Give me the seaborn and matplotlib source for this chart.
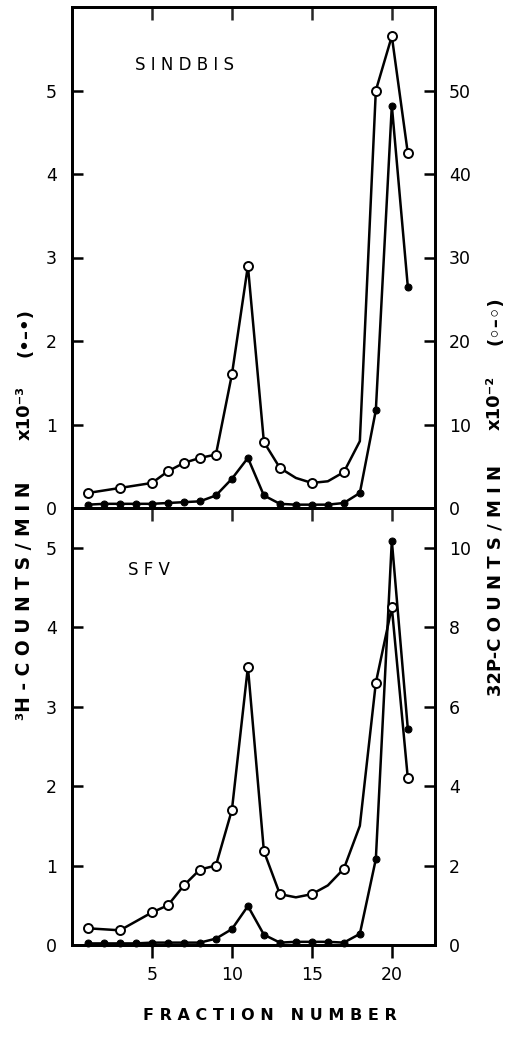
import numpy as np
import pandas as pd
import matplotlib
matplotlib.use("Agg")
import matplotlib.pyplot as plt
import seaborn as sns

# ---------------- data ----------------
fractions = list(range(1, 22))

# SINDBIS: 3H counts/min x10^-3 (filled circles, left axis)
sindbis_h3 = [0.04, 0.05, 0.05, 0.05, 0.05, 0.06, 0.07, 0.08, 0.15, 0.35, 0.60,
              0.15, 0.05, 0.04, 0.04, 0.04, 0.06, 0.18, 1.17, 4.82, 2.65]
# SINDBIS: 32P counts/min x10^-2 (open circles, right axis)
sindbis_p32_x = [1, 3, 5, 6, 7, 8, 9, 10, 11, 12, 13, 15, 17, 19, 20, 21]
sindbis_p32 = [1.8, 2.4, 3.0, 4.4, 5.4, 6.0, 6.4, 16.0, 29.0, 7.9, 4.8, 3.0, 4.3, 50.0, 56.5, 42.5]
sindbis_p32_curve_x = [14, 16, 18]
sindbis_p32_curve = [3.6, 3.2, 8.0]

# SFV
sfv_h3 = [0.02, 0.02, 0.02, 0.02, 0.03, 0.03, 0.03, 0.03, 0.08, 0.20, 0.49,
          0.13, 0.03, 0.04, 0.04, 0.04, 0.03, 0.14, 1.08, 5.09, 2.72]
sfv_p32_x = [1, 3, 5, 6, 7, 8, 9, 10, 11, 12, 13, 15, 17, 19, 20, 21]
sfv_p32 = [0.42, 0.37, 0.82, 1.0, 1.5, 1.9, 2.0, 3.4, 7.0, 2.36, 1.28, 1.28, 1.92, 6.6, 8.5, 4.2]
sfv_p32_curve_x = [14, 16, 18]
sfv_p32_curve = [1.2, 1.5, 3.0]

panel_names = ["S I N D B I S", "S F V"]
x_ticks = [5, 10, 15, 20]
left_ticks = [0, 1, 2, 3, 4, 5]
right_ticks_top = [0, 10, 20, 30, 40, 50]
right_ticks_bottom = [0, 2, 4, 6, 8, 10]

# ---------------- style ----------------
sns.set_theme(style="ticks")
plt.rcParams["font.family"] = ["DejaVu Sans"]

W, H = 516, 1043
fig = plt.figure(figsize=(W / 100, H / 100), dpi=100)
fig.patch.set_facecolor("white")

xl, xr = 72, 435
y_top, y_mid, y_bot = 7, 508, 945


def fx(px):
    return px / W


def fy(py):
    return 1 - py / H


ax_top = fig.add_axes([fx(xl), fy(y_mid), fx(xr - xl), (y_mid - y_top) / H])
ax_bot = fig.add_axes([fx(xl), fy(y_bot), fx(xr - xl), (y_bot - y_mid) / H])

LW = 1.8
TICK_FS = 12.5


def draw_panel(ax, h3, px, py, cx, cy, ylim, y2lim, y2ticks, name, name_pos):
    df_h = pd.DataFrame({"fraction": fractions, "h3": h3})
    sns.lineplot(data=df_h, x="fraction", y="h3", ax=ax, color="black",
                 linewidth=LW, marker="o", markersize=5, markerfacecolor="black",
                 markeredgecolor="black", estimator=None, clip_on=False, zorder=3)
    ax2 = ax.twinx()
    df_p = pd.DataFrame({
        "fraction": list(px) + list(cx),
        "p32": list(py) + list(cy),
        "measured": [True] * len(px) + [False] * len(cx),
    }).sort_values("fraction")
    sns.lineplot(data=df_p, x="fraction", y="p32", ax=ax2, color="black",
                 linewidth=LW, estimator=None, sort=True, zorder=3)
    sns.scatterplot(data=df_p[df_p["measured"]], x="fraction", y="p32", ax=ax2,
                    s=42, color="white", edgecolor="black", linewidth=1.4,
                    zorder=5, clip_on=False)
    ax.set_xlim(0, 22.7)
    ax.set_ylim(*ylim)
    ax2.set_ylim(*y2lim)
    ax.set_xticks(x_ticks)
    ax.set_yticks(left_ticks)
    ax2.set_yticks(y2ticks)
    ax.set_xlabel("")
    ax.set_ylabel("")
    ax2.set_ylabel("")
    for a in (ax, ax2):
        for s in a.spines.values():
            s.set_visible(True)
            s.set_linewidth(2.0)
            s.set_color("black")
    ax.tick_params(axis="y", direction="in", length=8, width=1.8, pad=11,
                   labelsize=TICK_FS, colors="black", left=True, right=False)
    ax2.tick_params(axis="y", direction="in", length=8, width=1.8, pad=10,
                    labelsize=TICK_FS, colors="black")
    ax.text(name_pos[0], name_pos[1], name, transform=ax.transAxes,
            fontsize=12, ha="left", va="center", color="black")
    return ax2


ax2_top = draw_panel(ax_top, sindbis_h3, sindbis_p32_x, sindbis_p32,
                     sindbis_p32_curve_x, sindbis_p32_curve,
                     (0, 6.0), (0, 60), right_ticks_top, panel_names[0],
                     ((135 - xl) / (xr - xl), (y_mid - 65) / (y_mid - y_top)))
ax2_bot = draw_panel(ax_bot, sfv_h3, sfv_p32_x, sfv_p32,
                     sfv_p32_curve_x, sfv_p32_curve,
                     (0, 5.5), (0, 11), right_ticks_bottom, panel_names[1],
                     ((128 - xl) / (xr - xl), (y_bot - 570) / (y_bot - y_mid)))

# x ticks: top panel ticks on its top edge (inward), no labels
ax_top.tick_params(axis="x", bottom=False, top=True, direction="in", length=9,
                   width=1.8, labelbottom=False, labeltop=False)
# bottom panel: outward ticks with labels at the bottom
ax_bot.tick_params(axis="x", bottom=True, top=False, direction="out", length=9,
                   width=1.8, labelsize=TICK_FS, pad=6, colors="black")
sec = ax_bot.secondary_xaxis("top")
sec.set_xticks(x_ticks)
sec.tick_params(axis="x", direction="in", length=9, width=1.8, labeltop=False)
sec.spines["top"].set_linewidth(2.0)

# axis labels (rotated, in pieces)
lab_kw = dict(rotation=90, ha="center", va="center", fontweight="bold",
              color="black")
fig.text(fx(25), fy(601), "³H - C O U N T S / M I N", fontsize=13.5, **lab_kw)
fig.text(fx(25), fy(413), "x10⁻³", fontsize=13, **lab_kw)
fig.text(fx(25), fy(333), "(•–•)", fontsize=13, **lab_kw)

fig.text(fx(495), fy(581), "32P-C O U N T S / M I N", fontsize=13, **lab_kw)
fig.text(fx(495), fy(403), "x10⁻²", fontsize=13, **lab_kw)
fig.text(fx(495), fy(321), "(◦–◦)", fontsize=13, **lab_kw)

fig.text(fx(270), fy(1015), "F R A C T I O N   N U M B E R", ha="center",
         va="center", fontsize=11.5, fontweight="bold", color="black")

fig.savefig("out.png", dpi=100, facecolor="white")
